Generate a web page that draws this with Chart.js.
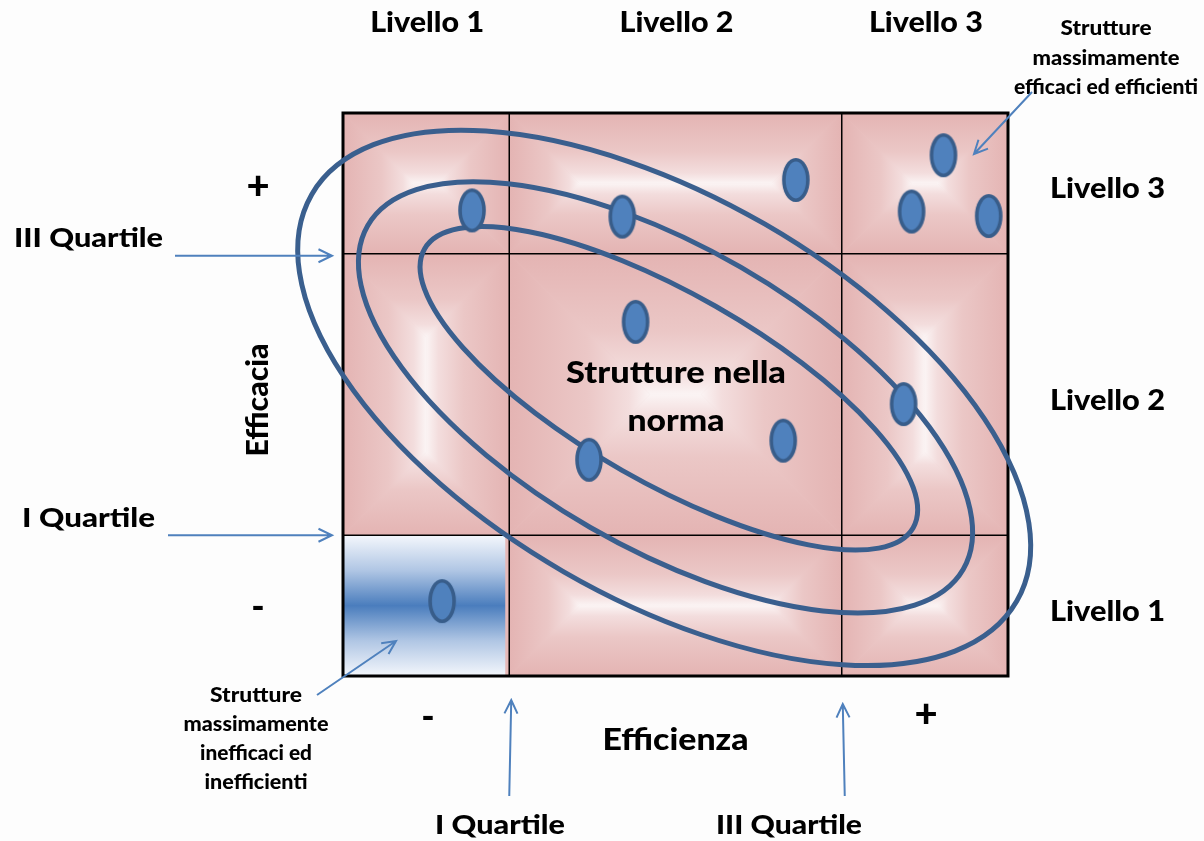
<!DOCTYPE html>
<html>
<head>
<meta charset="utf-8">
<script src="https://cdn.jsdelivr.net/npm/chart.js@4.4.1/dist/chart.umd.min.js"></script>
<style>
  body { margin: 0; background: #fdfdfd; }
  #wrap { width: 1204px; height: 841px; }
</style>
</head>
<body>
<div id="wrap"><canvas id="chart1" width="1204" height="841"></canvas></div>
<script>
"use strict";

// quartile cut points on both axes (0..100)
var quartili = [25, 75];
var livelli = ['Livello 1', 'Livello 2', 'Livello 3'];

// structures: efficienza (x) / efficacia (y)
var efficienza = [19.4, 42.0, 68.1, 90.3, 85.5, 97.1, 44.0, 37.0, 66.2, 84.3, 14.9];
var efficacia  = [82.7, 81.6, 88.1, 92.5, 82.5, 81.7, 62.9, 38.4, 41.8, 48.3, 13.3];

// contour bands (outer -> inner): centre, semi-axes in efficienza units, tilt in degrees
var contourX = [48.3, 48.5, 49.0];
var contourY = [49.4, 49.5, 51.1];
var contourA = [61.2, 51.7, 42.3];
var contourB = [30.2, 22.6, 14.2];
var contourTilt = [30, 30, 29.7];

var FONT = 'Lato, "Open Sans", sans-serif';

// blue oval marker used as point style
function makeMarker() {
	var c = document.createElement('canvas');
	c.width = 30; c.height = 46;
	var g = c.getContext('2d');
	g.beginPath();
	g.ellipse(15, 23, 12, 20.2, 0, 0, Math.PI * 2);
	g.fillStyle = '#4f81bd';
	g.fill();
	g.lineWidth = 3.6;
	g.strokeStyle = '#385d8a';
	g.stroke();
	return c;
}

// rectangular "from centre" gradient like the office shape fill
function pillow(ctx, x0, y0, x1, y1) {
	var d = Math.min(x1 - x0, y1 - y0) / 2;
	var ix0 = x0 + d, iy0 = y0 + d, ix1 = x1 - d, iy1 = y1 - d;
	ctx.fillStyle = '#ebc6c5';
	ctx.fillRect(x0, y0, x1 - x0, y1 - y0);
	var parts = [
		[[x0, y0], [x1, y0], [ix1, iy0], [ix0, iy0], 0, y0, 0, iy0],
		[[x0, y1], [x1, y1], [ix1, iy1], [ix0, iy1], 0, y1, 0, iy1],
		[[x0, y0], [ix0, iy0], [ix0, iy1], [x0, y1], x0, 0, ix0, 0],
		[[x1, y0], [ix1, iy0], [ix1, iy1], [x1, y1], x1, 0, ix1, 0]
	];
	parts.forEach(function(p) {
		var gr = ctx.createLinearGradient(p[4], p[5], p[6], p[7]);
		gr.addColorStop(0, '#e4b4b3');
		gr.addColorStop(0.55, '#ebc7c6');
		gr.addColorStop(0.85, '#f3dddd');
		gr.addColorStop(1, '#fbf4f4');
		ctx.beginPath();
		ctx.moveTo(p[0][0], p[0][1]);
		ctx.lineTo(p[1][0], p[1][1]);
		ctx.lineTo(p[2][0], p[2][1]);
		ctx.lineTo(p[3][0], p[3][1]);
		ctx.closePath();
		ctx.fillStyle = gr;
		ctx.fill();
		ctx.strokeStyle = gr;
		ctx.lineWidth = 0.6;
		ctx.stroke();
	});
}

function arrow(ctx, x1, y1, x2, y2) {
	var ang = Math.atan2(y2 - y1, x2 - x1), len = 15, spread = 0.45;
	ctx.save();
	ctx.strokeStyle = '#4f81bd';
	ctx.lineWidth = 2;
	ctx.beginPath();
	ctx.moveTo(x1, y1);
	ctx.lineTo(x2, y2);
	ctx.moveTo(x2 - len * Math.cos(ang - spread), y2 - len * Math.sin(ang - spread));
	ctx.lineTo(x2, y2);
	ctx.lineTo(x2 - len * Math.cos(ang + spread), y2 - len * Math.sin(ang + spread));
	ctx.stroke();
	ctx.restore();
}

// label drawn at a given size and stretched to the width it has in the original
function text(ctx, s, x, y, size, width, align) {
	ctx.save();
	ctx.font = '900 ' + size + 'px ' + FONT;
	ctx.textBaseline = 'middle';
	ctx.textAlign = 'left';
	ctx.fillStyle = '#000';
	var w = ctx.measureText(s).width;
	var k = width ? width / w : 1;
	var left = align === 'left' ? x : x - w * k / 2;
	ctx.translate(left, y);
	ctx.scale(k, 1);
	ctx.fillText(s, 0, 0);
	ctx.restore();
}

var gridPlugin = {
	id: 'gridPlugin',
	beforeDatasetsDraw: function(chart) {
		var ctx = chart.ctx, sx = chart.scales.x, sy = chart.scales.y;
		var xs = [0].concat(quartili, [100]);
		ctx.save();
		for (var i = 0; i < 3; i++) {
			for (var j = 0; j < 3; j++) {
				var x0 = sx.getPixelForValue(xs[i]), x1 = sx.getPixelForValue(xs[i + 1]);
				var y0 = sy.getPixelForValue(xs[j + 1]), y1 = sy.getPixelForValue(xs[j]);
				if (i === 0 && j === 0) {
					var gb = ctx.createLinearGradient(0, y0, 0, y1);
					gb.addColorStop(0, '#f4f7fc');
					gb.addColorStop(0.25, '#b0c6e4');
					gb.addColorStop(0.5, '#4a7dbd');
					gb.addColorStop(0.75, '#b0c6e4');
					gb.addColorStop(1, '#f4f7fc');
					ctx.fillStyle = '#e6b9b8';
					ctx.fillRect(x0, y0, x1 - x0, y1 - y0);
					ctx.fillStyle = gb;
					ctx.fillRect(x0, y0, x1 - x0 - 4, y1 - y0);
				} else {
					pillow(ctx, x0, y0, x1, y1);
				}
			}
		}
		// inner grid lines
		ctx.strokeStyle = '#000';
		ctx.lineWidth = 1.5;
		ctx.beginPath();
		quartili.forEach(function(q) {
			var px = sx.getPixelForValue(q), py = sy.getPixelForValue(q);
			ctx.moveTo(px, sy.top); ctx.lineTo(px, sy.bottom);
			ctx.moveTo(sx.left, py); ctx.lineTo(sx.right, py);
		});
		ctx.stroke();
		ctx.lineWidth = 3;
		ctx.strokeRect(sx.left, sy.top, sx.right - sx.left, sy.bottom - sy.top);

		// contour bands
		var ux = sx.getPixelForValue(1) - sx.getPixelForValue(0);
		ctx.strokeStyle = '#3a5f8e';
		ctx.lineWidth = 5;
		for (var k = 0; k < contourX.length; k++) {
			ctx.beginPath();
			ctx.ellipse(sx.getPixelForValue(contourX[k]), sy.getPixelForValue(contourY[k]),
				contourA[k] * ux, contourB[k] * ux, contourTilt[k] * Math.PI / 180, 0, Math.PI * 2);
			ctx.stroke();
		}
		ctx.restore();
	},
	afterDraw: function(chart) {
		var ctx = chart.ctx, sx = chart.scales.x, sy = chart.scales.y;
		var xs = [0].concat(quartili, [100]);
		ctx.save();
		// column / row labels
		for (var i = 0; i < 3; i++) {
			var cx = (sx.getPixelForValue(xs[i]) + sx.getPixelForValue(xs[i + 1])) / 2;
			var cy = (sy.getPixelForValue(xs[i]) + sy.getPixelForValue(xs[i + 1])) / 2;
			text(ctx, livelli[i], cx + 1, 23, 28, 114);
			text(ctx, livelli[i], sx.right + 42, cy + 6, 28, 115, 'left');
		}
		var midX = (sx.left + sx.right) / 2;
		text(ctx, '+', 258, 186, 40);
		text(ctx, '-', 258, 607, 36);
		text(ctx, '-', 428, 717, 36);
		text(ctx, '+', 926, 714, 40);
		text(ctx, 'Efficienza', midX, 740, 30, 146);
		ctx.save();
		ctx.translate(258, 400);
		ctx.rotate(-Math.PI / 2);
		text(ctx, 'Efficacia', 0, 0, 30, 113);
		ctx.restore();

		text(ctx, 'Strutture nella', 676, 373, 30, 220);
		text(ctx, 'norma', 676, 421, 30, 97);

		text(ctx, 'III Quartile', 14, 238, 27, 149, 'left');
		text(ctx, 'I Quartile', 22, 518, 27, 133, 'left');
		text(ctx, 'I Quartile', 500, 825, 27, 130);
		text(ctx, 'III Quartile', 789, 825, 27, 146);

		var tr = [['Strutture', 91], ['massimamente', 147], ['efficaci ed efficienti', 184]];
		tr.forEach(function(r, n) {
			text(ctx, r[0], 1106, 29 + n * 29.5, 20, r[1]);
		});
		var bl = [['Strutture', 92], ['massimamente', 145], ['inefficaci ed', 112], ['inefficienti', 103]];
		bl.forEach(function(r, n) {
			text(ctx, r[0], 256, 696 + n * 29, 20, r[1]);
		});

		// quartile arrows point at the cut lines
		var q1x = sx.getPixelForValue(quartili[0]), q3x = sx.getPixelForValue(quartili[1]);
		var q1y = sy.getPixelForValue(quartili[0]), q3y = sy.getPixelForValue(quartili[1]);
		arrow(ctx, 175, q3y + 2, sx.left - 11, q3y + 2);
		arrow(ctx, 168, q1y, sx.left - 11, q1y);
		arrow(ctx, q1x, 796, q1x + 2, sy.bottom + 24);
		arrow(ctx, q3x + 3, 796, q3x + 1, sy.bottom + 28);
		arrow(ctx, 1032, 92, 974, 154);
		arrow(ctx, 317, 695, 396, 641);
		ctx.restore();
	}
};

var marker = makeMarker();
var ctx = document.getElementById('chart1').getContext('2d');
var myChart = new Chart(ctx, {
	type: 'scatter',
	data: {
		datasets: [{
			label: 'Strutture',
			data: efficienza.map(function(v, i) { return { x: v, y: efficacia[i] }; }),
			pointStyle: marker,
			pointRadius: 14,
			pointHoverRadius: 14
		}]
	},
	options: {
		responsive: false,
		animation: false,
		events: [],
		layout: {
			padding: { left: 343, top: 113, right: 196, bottom: 165 }
		},
		plugins: {
			legend: { display: false },
			tooltip: { enabled: false }
		},
		scales: {
			x: { type: 'linear', min: 0, max: 100, display: false },
			y: { type: 'linear', min: 0, max: 100, display: false }
		}
	},
	plugins: [gridPlugin]
});
</script>
</body>
</html>
